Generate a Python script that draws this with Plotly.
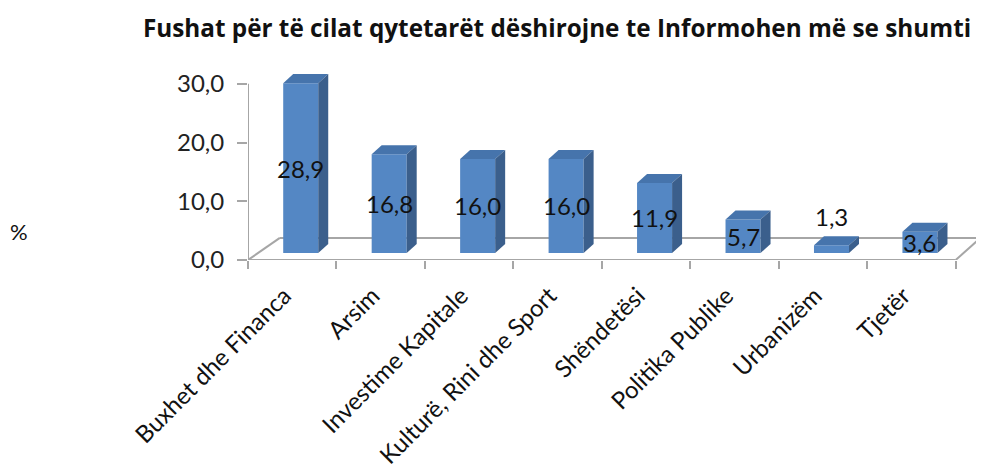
import plotly.graph_objects as go

categories = ["Buxhet dhe Financa", "Arsim", "Investime Kapitale", "Kulturë, Rini dhe Sport",
              "Shëndetësi", "Politika Publike", "Urbanizëm", "Tjetër"]
values = [28.9, 16.8, 16.0, 16.0, 11.9, 5.7, 1.3, 3.6]
y_ticks = [0, 10, 20, 30]
title_text = "Fushat për të cilat qytetarët dëshirojne te Informohen më se shumti"
y_title = "%"

FONT = "Lato"
FRONT = "#5487C4"
TOP = "#4674AC"
SIDE = "#3B5F8C"
GRID = "#A6A6A6"

# the page body has an 8px margin, so the figure is drawn 8px in from the corner
W, H = 976, 460

idx = list(range(len(categories)))
base = 1.2          # depth shift of bars (value units)
bar_off = -0.102    # left edge of front face relative to category centre
bar_w = 0.396
ddx, ddy = 0.113, 1.54   # 3D depth of a bar
floor_back = 3.76
floor_l, floor_r = 0.36, 0.28

fig = go.Figure()
fig.add_trace(go.Bar(
    x=idx, y=values, base=[base] * len(values), width=bar_w, offset=bar_off,
    marker=dict(color=FRONT, line=dict(width=0)), hoverinfo="skip"))

shapes = []
n = len(categories)
# floor
shapes.append(dict(type="line", xref="x", yref="y", x0=-0.5, x1=n - 0.5, y0=0, y1=0,
                   line=dict(color=GRID, width=2), layer="below"))
shapes.append(dict(type="line", xref="x", yref="y", x0=-0.5 + floor_l, x1=n - 0.5 + floor_r,
                   y0=floor_back, y1=floor_back, line=dict(color=GRID, width=2), layer="below"))
shapes.append(dict(type="line", xref="x", yref="y", x0=-0.5, x1=-0.5 + floor_l, y0=0, y1=floor_back,
                   line=dict(color=GRID, width=2), layer="below"))
shapes.append(dict(type="line", xref="x", yref="y", x0=n - 0.5, x1=n - 0.5 + floor_r, y0=0, y1=floor_back,
                   line=dict(color=GRID, width=2), layer="below"))
# value axis line
shapes.append(dict(type="line", xref="x", yref="y", x0=-0.5, x1=-0.5, y0=-1.2, y1=max(y_ticks),
                   line=dict(color=GRID, width=2), layer="below"))

for i, v in zip(idx, values):
    x0 = i + bar_off
    x1 = x0 + bar_w
    top = base + v
    shapes.append(dict(type="path", xref="x", yref="y", layer="above",
                       path=f"M {x0},{top} L {x1},{top} L {x1+ddx},{top+ddy} L {x0+ddx},{top+ddy} Z",
                       fillcolor=TOP, line=dict(width=0)))
    shapes.append(dict(type="path", xref="x", yref="y", layer="above",
                       path=f"M {x1},{base} L {x1+ddx},{base+ddy} L {x1+ddx},{top+ddy} L {x1},{top} Z",
                       fillcolor=SIDE, line=dict(width=0)))

annotations = []
for i, v in zip(idx, values):
    cx = i + bar_off + bar_w / 2
    label = f"{v:.1f}".replace(".", ",")
    if v < 3:
        annotations.append(dict(x=cx, y=base + v + ddy, xref="x", yref="y", text=label,
                                showarrow=False, yanchor="bottom", yshift=3,
                                font=dict(family=FONT, size=24, color="#111")))
    else:
        annotations.append(dict(x=cx, y=base + v / 2, xref="x", yref="y", text=label,
                                showarrow=False, yanchor="middle",
                                font=dict(family=FONT, size=24, color="#111")))
annotations.append(dict(x=-0.3106, y=0.149, xref="paper", yref="paper", text=y_title,
                        showarrow=False, xanchor="center", yanchor="middle",
                        font=dict(family=FONT, size=22, color="#111")))

fig.update_layout(
    width=W, height=H,
    margin=dict(l=240, r=0, t=64, b=208, autoexpand=False),
    paper_bgcolor="white", plot_bgcolor="white",
    separators=",.",
    showlegend=False,
    title=dict(text=f"<b>{title_text}</b>", x=549 / W, xanchor="center", xref="container",
               y=1 - 20 / H, yanchor="middle", yref="container",
               font=dict(family="Open Sans", size=24.3, color="#111")),
    shapes=shapes, annotations=annotations,
    xaxis=dict(range=[-0.5, n - 0.5 + 0.32], tickvals=idx, ticktext=categories, tickangle=-45,
               showgrid=False, zeroline=False, showline=False, ticks="", automargin=False,
               ticklabelstandoff=16, ticklabelshift=-8,
               tickfont=dict(family=FONT, size=24, color="#111"),
               minor=dict(tickvals=[i - 0.5 for i in range(n + 1)], ticks="outside",
                          ticklen=8, tickwidth=2, tickcolor=GRID, showgrid=False)),
    yaxis=dict(range=[0, 32], tickvals=y_ticks, tickformat=".1f", showgrid=False, automargin=False,
               zeroline=False, showline=False, ticks="outside", ticklen=10, tickwidth=2,
               tickcolor=GRID, ticklabelstandoff=8,
               tickfont=dict(family=FONT, size=24, color="#222")),
)

fig.write_html("out.html")
